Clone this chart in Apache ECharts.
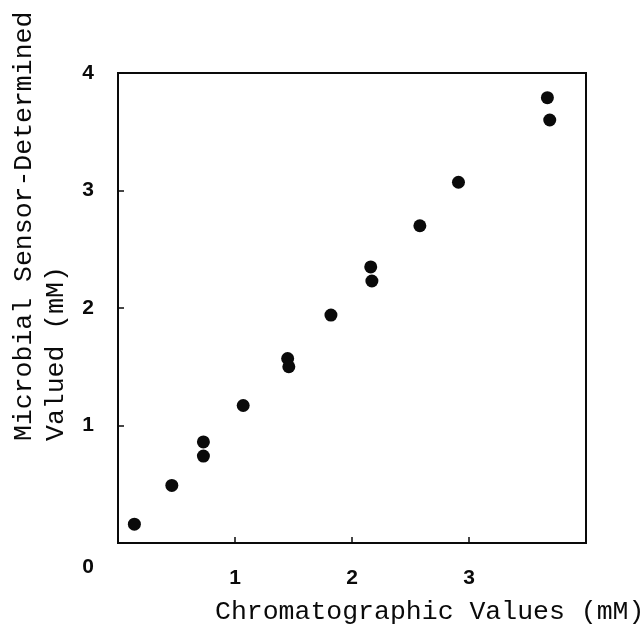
<!DOCTYPE html>
<html>
<head>
<meta charset="utf-8">
<script src="https://cdn.jsdelivr.net/npm/echarts@6/dist/echarts.min.js"></script>
<style>
    html, body { margin: 0; padding: 0; background: #fff; }
    #main { width: 644px; height: 633px; }
</style>
</head>
<body>
<div id="main"></div>
<script type="text/javascript">
    // data
    var chromValues = [0.14, 0.46, 0.73, 0.73, 1.07, 1.45, 1.46, 1.82, 2.16, 2.17, 2.58, 2.91, 3.67, 3.69];
    var sensorValues = [0.16, 0.49, 0.86, 0.74, 1.17, 1.57, 1.50, 1.94, 2.35, 2.23, 2.70, 3.07, 3.79, 3.60];
    var xTickLabels = ['1', '2', '3'];
    var yTickLabels = ['0', '1', '2', '3', '4'];
    var xTitle = 'Chromatographic Values (mM)';
    var yTitle = 'Microbial Sensor-Determined\nValued (mM)';

    var points = [];
    for (var i = 0; i < chromValues.length; i++) {
        points.push([chromValues[i], sensorValues[i]]);
    }

    var ink = '#0a0a0a';
    var labelFont = { color: ink, fontFamily: 'Liberation Sans', fontWeight: 'bold', fontSize: 21 };
    var titleFont = '26.5px "Liberation Mono"';

    var myChart = echarts.init(document.getElementById('main'));
    var option = {
        backgroundColor: '#fff',
        animation: false,
        grid: {
            left: 118,
            top: 73,
            width: 468,
            height: 470,
            show: true,
            borderColor: ink,
            borderWidth: 2
        },
        xAxis: {
            type: 'value',
            min: 0,
            max: 4,
            interval: 1,
            splitLine: { show: false },
            axisLine: { lineStyle: { color: ink, width: 2 } },
            axisTick: { inside: true, length: 6, lineStyle: { color: ink, width: 1.5 } },
            axisLabel: Object.assign({}, labelFont, {
                margin: 25,
                formatter: function (v) {
                    var s = String(v);
                    return xTickLabels.indexOf(s) >= 0 ? s : '';
                }
            })
        },
        yAxis: {
            type: 'value',
            min: 0,
            max: 4,
            interval: 1,
            splitLine: { show: false },
            axisLine: { lineStyle: { color: ink, width: 2 } },
            axisTick: { inside: true, length: 6, lineStyle: { color: ink, width: 1.5 } },
            axisLabel: Object.assign({}, labelFont, {
                margin: 24,
                formatter: function (v) {
                    var s = String(v);
                    if (yTickLabels.indexOf(s) < 0) return '';
                    // origin label sits lower, beside the x labels
                    return s === '0' ? '{z|0}' : s;
                },
                rich: {
                    z: Object.assign({}, labelFont, { padding: [48, 0, 0, 0] })
                }
            })
        },
        graphic: [
            {
                type: 'text',
                x: 215,
                y: 612,
                style: {
                    text: xTitle,
                    font: titleFont,
                    fill: ink,
                    textAlign: 'left',
                    textVerticalAlign: 'middle'
                }
            },
            {
                type: 'text',
                x: 40,
                y: 441,
                rotation: Math.PI / 2,
                style: {
                    text: yTitle,
                    font: titleFont,
                    fill: ink,
                    lineHeight: 32,
                    textAlign: 'left',
                    textVerticalAlign: 'middle'
                }
            }
        ],
        series: [{
            type: 'scatter',
            data: points,
            symbol: 'circle',
            symbolSize: 13,
            itemStyle: { color: ink, opacity: 1 }
        }]
    };
    myChart.setOption(option);
</script>
</body>
</html>
